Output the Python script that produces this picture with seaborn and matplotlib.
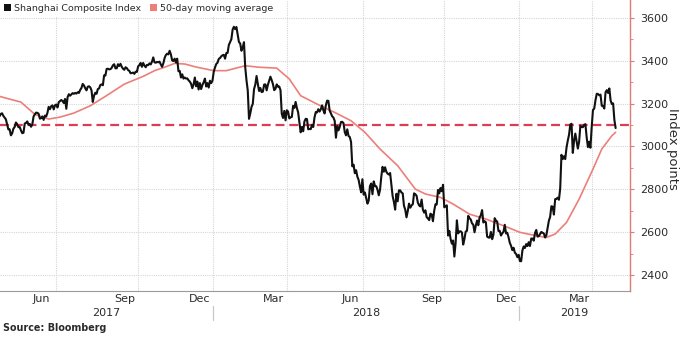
import numpy as np
import pandas as pd
import matplotlib
matplotlib.use("Agg")
import matplotlib.pyplot as plt
import matplotlib.transforms as mtransforms
from matplotlib.lines import Line2D
from matplotlib.patches import Patch
from matplotlib import font_manager
import seaborn as sns

# ---------------- data (daily closes, Shanghai Composite) ----------------
apr17 = [3141, 3152, 3155]
may17 = [3143, 3135, 3127, 3103, 3080, 3080, 3052, 3061, 3083, 3091, 3112, 3104, 3090, 3091, 3075,
         3062, 3064, 3107, 3110, 3117]
jun17 = [3102, 3105, 3092, 3103, 3140, 3150, 3158, 3157, 3153, 3130, 3132, 3140, 3124, 3144, 3140,
         3157, 3185, 3174, 3188, 3192, 3173, 3192]
jul17 = [3196, 3182, 3207, 3212, 3217, 3212, 3203, 3222, 3176, 3230, 3244, 3237, 3243, 3249, 3246,
         3250, 3247, 3253, 3250, 3264, 3273]
aug17 = [3292, 3285, 3272, 3262, 3279, 3281, 3276, 3262, 3208, 3237, 3251, 3246, 3268, 3271, 3287,
         3290, 3286, 3332, 3331, 3362, 3363, 3360, 3361]
sep17 = [3367, 3379, 3384, 3365, 3365, 3384, 3376, 3386, 3372, 3363, 3358, 3370, 3366, 3357, 3353,
         3342, 3343, 3345, 3339, 3349, 3348]
oct17 = [3374, 3380, 3390, 3372, 3390, 3378, 3370, 3381, 3380, 3388, 3383, 3396, 3416, 3393, 3391,
         3395, 3393]
nov17 = [3396, 3383, 3372, 3388, 3413, 3427, 3433, 3430, 3447, 3430, 3402, 3399, 3410, 3392, 3410,
         3351, 3353, 3322, 3337, 3317, 3322, 3317]
dec17 = [3318, 3309, 3303, 3293, 3272, 3289, 3322, 3281, 3303, 3266, 3296, 3268, 3287, 3300, 3317,
         3280, 3296, 3275, 3307, 3296, 3307]
jan18 = [3349, 3369, 3385, 3391, 3409, 3413, 3421, 3426, 3428, 3410, 3436, 3437, 3474, 3487, 3501,
         3546, 3559, 3548, 3558, 3523, 3488, 3481]
feb18 = [3447, 3462, 3487, 3370, 3309, 3262, 3129, 3154, 3185, 3199, 3268, 3289, 3329, 3292, 3259]
mar18 = [3273, 3254, 3256, 3289, 3290, 3262, 3288, 3307, 3326, 3310, 3291, 3263, 3269, 3290, 3279,
         3280, 3263, 3153, 3133, 3166, 3122, 3169]
apr18 = [3163, 3131, 3136, 3138, 3190, 3180, 3208, 3180, 3159, 3111, 3066, 3091, 3071, 3117, 3129,
         3128, 3080, 3082]
may18 = [3081, 3101, 3091, 3136, 3161, 3159, 3174, 3163, 3174, 3192, 3169, 3154, 3193, 3214, 3213,
         3168, 3154, 3141, 3135, 3120, 3041, 3095]
jun18 = [3075, 3091, 3114, 3115, 3109, 3067, 3052, 3080, 3049, 3044, 3021, 2907, 2915, 2875, 2889,
         2859, 2844, 2813, 2786, 2847]
jul18 = [2775, 2785, 2759, 2733, 2747, 2815, 2827, 2777, 2837, 2815, 2814, 2798, 2772, 2798, 2859,
         2905, 2882, 2903, 2882, 2873, 2869, 2876]
aug18 = [2824, 2768, 2741, 2705, 2779, 2744, 2795, 2795, 2785, 2781, 2723, 2705, 2669, 2698, 2733,
         2714, 2725, 2730, 2781, 2777, 2770, 2738, 2725]
sep18 = [2720, 2752, 2705, 2691, 2702, 2670, 2664, 2656, 2686, 2682, 2651, 2700, 2730, 2729, 2797,
         2781, 2806, 2791, 2821]
oct18 = [2716, 2721, 2725, 2584, 2606, 2568, 2546, 2561, 2486, 2550, 2655, 2594, 2603, 2604, 2598,
         2542, 2568, 2603]
nov18 = [2606, 2676, 2665, 2659, 2641, 2635, 2599, 2630, 2654, 2632, 2668, 2679, 2703, 2645, 2651,
         2646, 2579, 2575, 2574, 2601, 2567, 2588]
dec18 = [2665, 2654, 2649, 2605, 2606, 2584, 2594, 2602, 2634, 2594, 2597, 2576, 2550, 2536, 2516,
         2527, 2504, 2498, 2483, 2494]
jan19 = [2465, 2464, 2514, 2533, 2526, 2544, 2535, 2553, 2535, 2570, 2570, 2560, 2596, 2610, 2579,
         2581, 2591, 2601, 2597, 2594, 2575, 2585]
feb19 = [2618, 2653, 2671, 2721, 2719, 2682, 2754, 2755, 2761, 2751, 2804, 2961, 2941, 2954, 2941]
mar19 = [2994, 3027, 3054, 3102, 3106, 2970, 3026, 3060, 3026, 2990, 3022, 3096, 3091, 3090, 3101,
         3104, 3043, 2997, 3022, 2994, 3091]
apr19 = [3170, 3177, 3216, 3246, 3245, 3239, 3242, 3190, 3189, 3177, 3253, 3263, 3250, 3271, 3215,
         3198, 3201, 3124, 3086]

months = ["2017-04", "2017-05", "2017-06", "2017-07", "2017-08", "2017-09", "2017-10", "2017-11",
          "2017-12", "2018-01", "2018-02", "2018-03", "2018-04", "2018-05", "2018-06", "2018-07",
          "2018-08", "2018-09", "2018-10", "2018-11", "2018-12", "2019-01", "2019-02", "2019-03",
          "2019-04"]
month_closes = [apr17, may17, jun17, jul17, aug17, sep17, oct17, nov17, dec17, jan18, feb18, mar18,
                apr18, may18, jun18, jul18, aug18, sep18, oct18, nov18, dec18, jan19, feb19, mar19,
                apr19]

# 50-day moving average
ma_dates = ["2017-04-26", "2017-05-22", "2017-06-08", "2017-06-23", "2017-07-06", "2017-07-21",
            "2017-08-09", "2017-08-25", "2017-09-15", "2017-10-16", "2017-10-26", "2017-11-07",
            "2017-11-17", "2017-11-29", "2017-12-12", "2018-01-02", "2018-01-16", "2018-02-06",
            "2018-02-28", "2018-03-20", "2018-04-03", "2018-04-18", "2018-05-09", "2018-05-29",
            "2018-06-15", "2018-07-03", "2018-07-19", "2018-08-08", "2018-08-28", "2018-09-07",
            "2018-09-26", "2018-10-17", "2018-11-05", "2018-11-22", "2018-12-17", "2019-01-02",
            "2019-01-21", "2019-01-31", "2019-02-18", "2019-03-01", "2019-03-15", "2019-04-01",
            "2019-04-11", "2019-04-23", "2019-04-26"]
ma_values = [3234, 3207, 3150, 3128, 3137, 3156, 3190, 3234, 3291, 3330, 3354, 3370, 3388, 3385,
             3371, 3354, 3354, 3377, 3370, 3366, 3315, 3237, 3198, 3159, 3120, 3066, 2988, 2910,
             2801, 2778, 2762, 2731, 2684, 2661, 2623, 2599, 2583, 2575, 2591, 2645, 2754, 2894,
             2988, 3050, 3066]

reference_level = 3100
y_ticks = [2400, 2600, 2800, 3000, 3200, 3400, 3600]
month_label_months = {"Jun": 6, "Sep": 9, "Dec": 12, "Mar": 3}
years = ["2017", "2018", "2019"]

# exchange holidays (trading-day axis)
holidays = ["2017-05-01", "2017-05-29", "2017-05-30", "2017-10-02", "2017-10-03", "2017-10-04",
            "2017-10-05", "2017-10-06", "2018-01-01", "2018-02-15", "2018-02-16", "2018-02-19",
            "2018-02-20", "2018-02-21", "2018-04-05", "2018-04-06", "2018-04-30", "2018-05-01",
            "2018-06-18", "2018-09-24", "2018-10-01", "2018-10-02", "2018-10-03", "2018-10-04",
            "2018-10-05", "2018-12-31", "2019-01-01", "2019-02-04", "2019-02-05", "2019-02-06",
            "2019-02-07", "2019-02-08", "2019-04-05"]

# ---------------- build trading-day positions ----------------
cal = pd.bdate_range("2017-04-26", "2019-04-26", freq="C", holidays=holidays)
periods = cal.to_period("M")
xs, ys = [], []
for key, vals in zip(months, month_closes):
    idx = np.flatnonzero(periods == pd.Period(key, "M"))
    pos = idx if len(idx) == len(vals) else np.linspace(idx[0], idx[-1], len(vals))
    xs.extend(pos)
    ys.extend(vals)
price = pd.DataFrame({"x": np.asarray(xs, float), "close": ys})
ma = pd.DataFrame({"x": cal.searchsorted(pd.to_datetime(ma_dates)).astype(float), "ma": ma_values})

# ---------------- style ----------------
names = {f.name for f in font_manager.fontManager.ttflist}
narrow = "Liberation Sans Narrow" in names
FONT = ["Liberation Sans Narrow", "DejaVu Sans"] if narrow else ["DejaVu Sans"]
k = 1.0 if narrow else 0.8
sns.set_style("white")
plt.rcParams["font.family"] = FONT

BLACK = "#111111"
MA_COL = "#ec7f7a"
DASH_COL = "#dc3d52"
SPINE_COL = "#e27a7a"
GRID_COL = "#d6d6d6"
TXT = "#2b2b2b"

fig = plt.figure(figsize=(6.8, 3.41), dpi=100)
W, H = 680, 341
ax = fig.add_axes([0, 1 - 291 / H, 630 / W, 291 / H])

x_left, x_right = 0.36, 500.4
ax.set_xlim(x_left, x_right)
ax.set_ylim(2325, 3684)

# gridlines
for v in y_ticks:
    ax.axhline(v, color=GRID_COL, lw=0.8, ls=(0, (1, 1)), zorder=0)

month_keys = periods.unique()
bounds = [np.flatnonzero(periods == p)[0] - 0.5 for p in month_keys[1:]]
bounds.append(len(cal) - 1 + 2.5)
quarter_bounds = [np.flatnonzero(periods == p)[0] - 0.5 for p in month_keys[1:] if p.month in (1, 4, 7, 10)]
for b in quarter_bounds:
    ax.axvline(b, color=GRID_COL, lw=0.8, ls=(0, (1, 1)), zorder=0)

sns.lineplot(data=ma, x="x", y="ma", ax=ax, color=MA_COL, lw=1.2, zorder=2)
ax.axhline(reference_level, color=DASH_COL, lw=1.6, ls=(0, (4, 2.2)), zorder=3)
sns.lineplot(data=price, x="x", y="close", ax=ax, color=BLACK, lw=1.5, zorder=4)

# axes / spines
for s in ["left", "top"]:
    ax.spines[s].set_visible(False)
ax.spines["right"].set_color(SPINE_COL)
ax.spines["right"].set_linewidth(1.0)
ax.spines["bottom"].set_color("#9a9a9a")
ax.spines["bottom"].set_linewidth(0.8)

ax.yaxis.tick_right()
ax.set_yticks(y_ticks)
ax.set_yticklabels([str(v) for v in y_ticks])
ax.set_yticks(np.arange(2400, 3700, 100), minor=True)
ax.tick_params(axis="y", which="major", direction="out", length=3, width=0.8, colors=SPINE_COL,
               labelcolor=TXT, labelsize=10 * k, pad=4, left=False, right=True)
ax.tick_params(axis="y", which="minor", direction="out", length=2, width=0.6, colors=SPINE_COL,
               left=False, right=True)
ax.set_ylabel("")
fig.text(673 / W, 1 - 148.5 / H, "Index points", rotation=270, fontsize=9.5, color=TXT,
         ha="center", va="center")

# x ticks: month boundaries (marks) + mid-month labels
label_pos, label_txt = [], []
for p in month_keys:
    for name, m in month_label_months.items():
        if p.month == m:
            label_pos.append(np.flatnonzero(periods == p).mean())
            label_txt.append(name)
ax.set_xticks(bounds)
ax.set_xticklabels([""] * len(bounds))
ax.set_xticks(label_pos, minor=True)
ax.set_xticklabels(label_txt, minor=True)
ax.tick_params(axis="x", which="major", direction="out", length=3, width=0.7, colors="#9a9a9a")
ax.tick_params(axis="x", which="minor", length=0, labelsize=10 * k, labelcolor=TXT, pad=2.5)
ax.set_xlabel("")

# year labels and separators
trans = mtransforms.blended_transform_factory(ax.transData, fig.transFigure)
jan_bounds = [np.flatnonzero(periods == p)[0] - 0.5 for p in month_keys[1:] if p.month == 1]
edges = [x_left] + jan_bounds + [x_right]
for i, yr in enumerate(years):
    ax.text((edges[i] + edges[i + 1]) / 2, 1 - 312.7 / H, yr, transform=trans, ha="center",
            va="center", fontsize=10 * k, color=TXT)
for b in jan_bounds:
    fig.add_artist(Line2D([b, b], [1 - 306 / H, 1 - 320 / H], transform=trans, color="#c8c8c8", lw=0.9))

# legend
handles = [Patch(facecolor=BLACK, edgecolor="none"), Patch(facecolor=MA_COL, edgecolor="none")]
leg = ax.legend(handles, ["Shanghai Composite Index", "50-day moving average"], loc="upper left",
                bbox_to_anchor=(0.0, 1.0), ncol=2, frameon=True, fontsize=8.5 * k,
                handlelength=0.8, handleheight=0.8, handletextpad=0.3, columnspacing=0.9,
                borderaxespad=0.0, borderpad=0.4, labelcolor=TXT)
leg.get_frame().set_facecolor("white")
leg.get_frame().set_edgecolor("none")
leg.get_frame().set_alpha(1.0)
leg.set_zorder(10)

fig.text(3 / W, 1 - 327.7 / H, "Source: Bloomberg", fontsize=8.7 * k, fontweight="bold",
         color=TXT, va="center", ha="left")

fig.savefig("out.png", dpi=100, facecolor="white")
